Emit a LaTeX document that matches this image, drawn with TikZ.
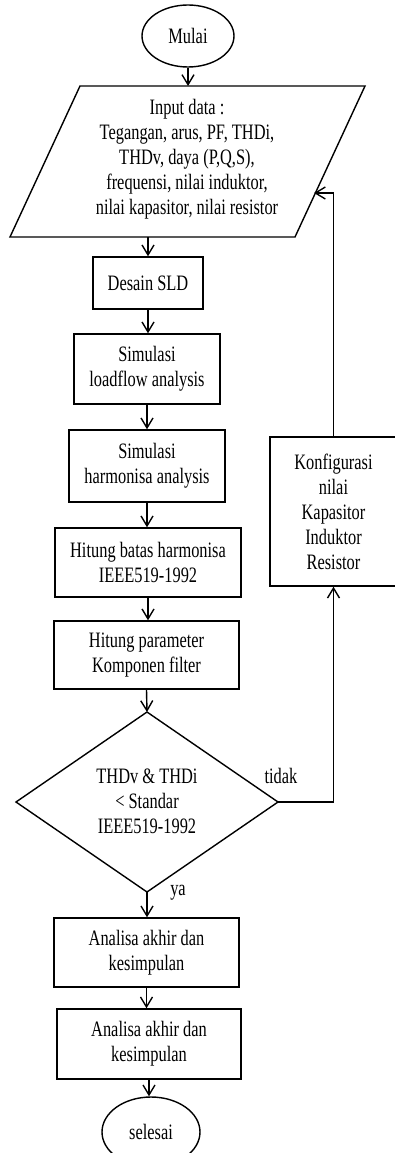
\documentclass[tikz,border=0pt]{standalone}
\usepackage{fontspec}
\setmainfont[FakeStretch=0.745]{Liberation Serif}
\usetikzlibrary{shapes.geometric,arrows.meta}
\begin{document}
\begin{tikzpicture}[x=1pt,y=-1pt,
  every node/.style={font=\fontsize{22}{25}\selectfont, align=center},
  box/.style={draw, line width=1.4pt, rectangle, inner sep=0pt},
  term/.style={draw, line width=1.4pt, ellipse, inner sep=0pt},
  arr/.style={line width=1.4pt, -{Straight Barb[length=10pt,width=12pt]}},
  ln/.style={line width=1.4pt, line join=miter},
  lbl/.style={inner sep=0pt}]
\useasboundingbox (0,0) rectangle (395,1153);
\clip (0,0) rectangle (395,1153);

% start
\node[term, minimum width=92pt, minimum height=62pt] (start) at (188,36) {Mulai};

% input parallelogram
\draw[ln] (80,86) coordinate (pTL) -- (365,86) coordinate (pTR) -- (295,237) coordinate (pBR) -- (10,237) coordinate (pBL) -- cycle;
\node (inp) at (187,159) {Input data :\\Tegangan, arus, PF, THDi,\\THDv, daya (P,Q,S),\\frequensi, nilai induktor,\\nilai kapasitor, nilai resistor};
\coordinate (inTop) at (188,86);
\coordinate (inBot) at (148,237);
\coordinate (inRet) at (314,193);

% process boxes
\node[box, minimum width=110pt, minimum height=52pt] (sld) at (148,283) {Desain SLD};
\node[box, minimum width=146pt, minimum height=70pt] (lf) at (147,369) {Simulasi\\loadflow analysis};
\node[box, minimum width=156pt, minimum height=72pt] (ha) at (147,466) {Simulasi\\harmonisa analysis};
\node[box, minimum width=186pt, minimum height=69pt] (hb) at (148,562.5) {Hitung batas harmonisa\\IEEE519-1992};
\node[box, minimum width=185pt, minimum height=68pt] (hp) at (146.5,655) {Hitung parameter\\Komponen filter};

% decision
\draw[ln] (147,712) coordinate (dT) -- (278,802) coordinate (dR) -- (147,892) coordinate (dB) -- (16,802) coordinate (dL) -- cycle;
\node (dec) at (147,801) {THDv \& THDi\\< Standar\\IEEE519-1992};

\node[box, minimum width=185pt, minimum height=69pt] (an1) at (146.5,952.5) {Analisa akhir dan\\kesimpulan};
\node[box, minimum width=184pt, minimum height=70pt] (an2) at (149,1044) {Analisa akhir dan\\kesimpulan};
\node[term, minimum width=98pt, minimum height=70pt] (end) at (151,1132) {selesai};

\node[box, minimum width=127pt, minimum height=149pt] (kf) at (333.5,511.5) {Konfigurasi\\nilai\\Kapasitor\\Induktor\\Resistor};

% labels
\node[lbl] (tidak) at (281,776) {tidak};
\node[lbl] (ya) at (178,893) {ya};

% connectors
\draw[arr] (start) -- (inTop);
\draw[arr] (inBot) -- (inBot |- sld.north);
\draw[arr] (sld.south) -- (sld.south |- lf.north);
\draw[arr] (lf.south) -- (lf.south |- ha.north);
\draw[arr] (ha.south) -- (ha.south |- hb.north);
\draw[arr] (hb.south) -- (hb.south |- hp.north);
\draw[arr] (hp.south) -- (dT);
\draw[arr] (dB) -- (dB |- an1.north);
\draw[arr] (an1.south) -- (an1.south |- an2.north);
\draw[arr] (an2.south) -- (an2.south |- end.north);
\draw[arr] (dR) -- (kf.south |- dR) -- (kf.south);
\draw[arr] (kf.north) -- (kf.north |- inRet) -- (inRet);
\end{tikzpicture}
\end{document}
